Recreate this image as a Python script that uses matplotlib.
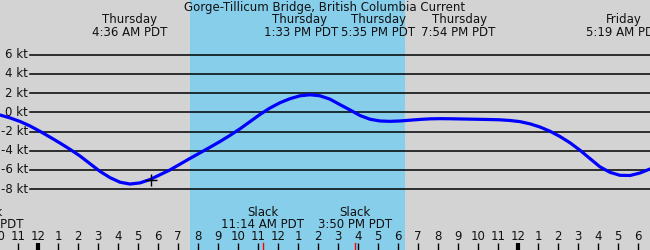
#!/usr/bin/env python3
import matplotlib
matplotlib.use('Agg')
import matplotlib.pyplot as plt
import matplotlib.transforms as mtransforms

# hours after midnight Thursday, current speed in knots
hours = [-1.9, -1.4, -0.9, -0.4, 0.1, 0.6, 1.1, 1.6, 2.1, 2.6,
         3.1, 3.6, 4.1, 4.6, 5.1, 5.6, 6.1, 6.6, 7.1, 7.6,
         8.1, 8.6, 9.1, 9.6, 10.1, 10.6, 11.1, 11.6, 12.1, 12.6,
         13.1, 13.6, 14.1, 14.6, 15.1, 15.6, 16.1, 16.6, 17.1, 17.6,
         18.1, 18.6, 19.1, 19.6, 20.1, 20.6, 21.1, 21.6, 22.1, 22.6,
         23.1, 23.6, 24.1, 24.6, 25.1, 25.6, 26.1, 26.6, 27.1, 27.6,
         28.1, 28.6, 29.1, 29.6, 30.1, 30.6]
speed = [-0.28, -0.58, -0.95, -1.42, -1.98, -2.58, -3.2, -3.85, -4.55, -5.35,
         -6.15, -6.8, -7.28, -7.47, -7.35, -7.0, -6.5, -6.0, -5.4, -4.8,
         -4.22, -3.64, -3.04, -2.4, -1.72, -0.97, -0.22, 0.45, 1.0, 1.42,
         1.72, 1.83, 1.72, 1.37, 0.8, 0.25, -0.33, -0.72, -0.9, -0.94,
         -0.9, -0.82, -0.74, -0.68, -0.66, -0.67, -0.69, -0.71, -0.73, -0.75,
         -0.78, -0.85, -0.97, -1.2, -1.53, -1.97, -2.52, -3.17, -3.95, -4.82,
         -5.68, -6.25, -6.56, -6.58, -6.32, -5.9]

now_hour, now_speed = 5.65, -7.0
daylight = (7.6, 18.35)

grid_kt = [6, 4, 2, 0, -2, -4, -6, -8]

# top event labels: (day, time text, centre hour of day line, centre hour of time line)
events = [("Thursday", "4:36 AM PDT", 4.6, 4.6),
          ("Thursday", "1:33 PM PDT", 13.1, 13.15),
          ("Thursday", "5:35 PM PDT", 17.05, 17.0),
          ("Thursday", "7:54 PM PDT", 21.1, 21.0),
          ("Friday", "5:19 AM PDT", 29.3, 29.3)]

slacks = [(-2.57, "9:26 PM PDT"), (11.23, "11:14 AM PDT"), (15.83, "3:50 PM PDT")]

hour_ticks = list(range(-2, 31))
title = "Gorge-Tillicum Bridge, British Columbia Current"

W, H = 650, 250
fig = plt.figure(figsize=(W / 100, H / 100), dpi=100, facecolor='#d3d3d3')
ax = fig.add_axes([0, 0, 1, 1])
ax.set_facecolor('#d3d3d3')
ax.set_xlim(-1.9, 30.6)
ax.set_ylim(-14.34, 11.7)
ax.axis('off')

# y in pixels from the top, x in hours
def ypx(p):
    return 1 - p / H

bt = mtransforms.blended_transform_factory(ax.transData, ax.transAxes)
lt = mtransforms.blended_transform_factory(ax.transAxes, ax.transData)

ax.axvspan(daylight[0], daylight[1], color='#87ceeb', lw=0, zorder=0)

for k in grid_kt:
    ax.axhline(k, xmin=30 / W, xmax=1, color='black', lw=1.1, zorder=1)
    ax.text(28 / W, k, f"{k} kt", transform=lt, ha='right', va='center',
            fontsize=8.5, family='DejaVu Sans', color='#111')

ax.plot(hours, speed, color='#0000ff', lw=2.3, zorder=3,
        solid_capstyle='round', solid_joinstyle='round')
ax.plot([now_hour], [now_speed], marker='+', color='black', ms=9, mew=1, zorder=4)

fs = dict(fontsize=8.5, family='DejaVu Sans', color='#111', ha='center', va='center')
ax.text(0.5, ypx(7.5), title, transform=ax.transAxes, **fs)
for day, tm, hd, ht in events:
    ax.text(hd, ypx(20), day, transform=bt, **fs)
    ax.text(ht, ypx(32), tm, transform=bt, **fs)

for h, tm in slacks:
    ax.text(h, ypx(212), "Slack", transform=bt, **fs)
    ax.text(h, ypx(224), tm, transform=bt, **fs)
    ax.plot([h, h], [0, 7 / H], transform=bt, color='red', lw=1, zorder=5)

for h in hour_ticks:
    lab = (h - 1) % 12 + 1
    ax.text(h, ypx(236), str(lab), transform=bt, **fs)
    bold = h % 24 == 0
    ax.plot([h, h], [0, 7 / H], transform=bt, color='black',
            lw=3 if bold else 1, solid_capstyle='butt', zorder=5)

fig.savefig('out.png', dpi=100, facecolor=fig.get_facecolor())
